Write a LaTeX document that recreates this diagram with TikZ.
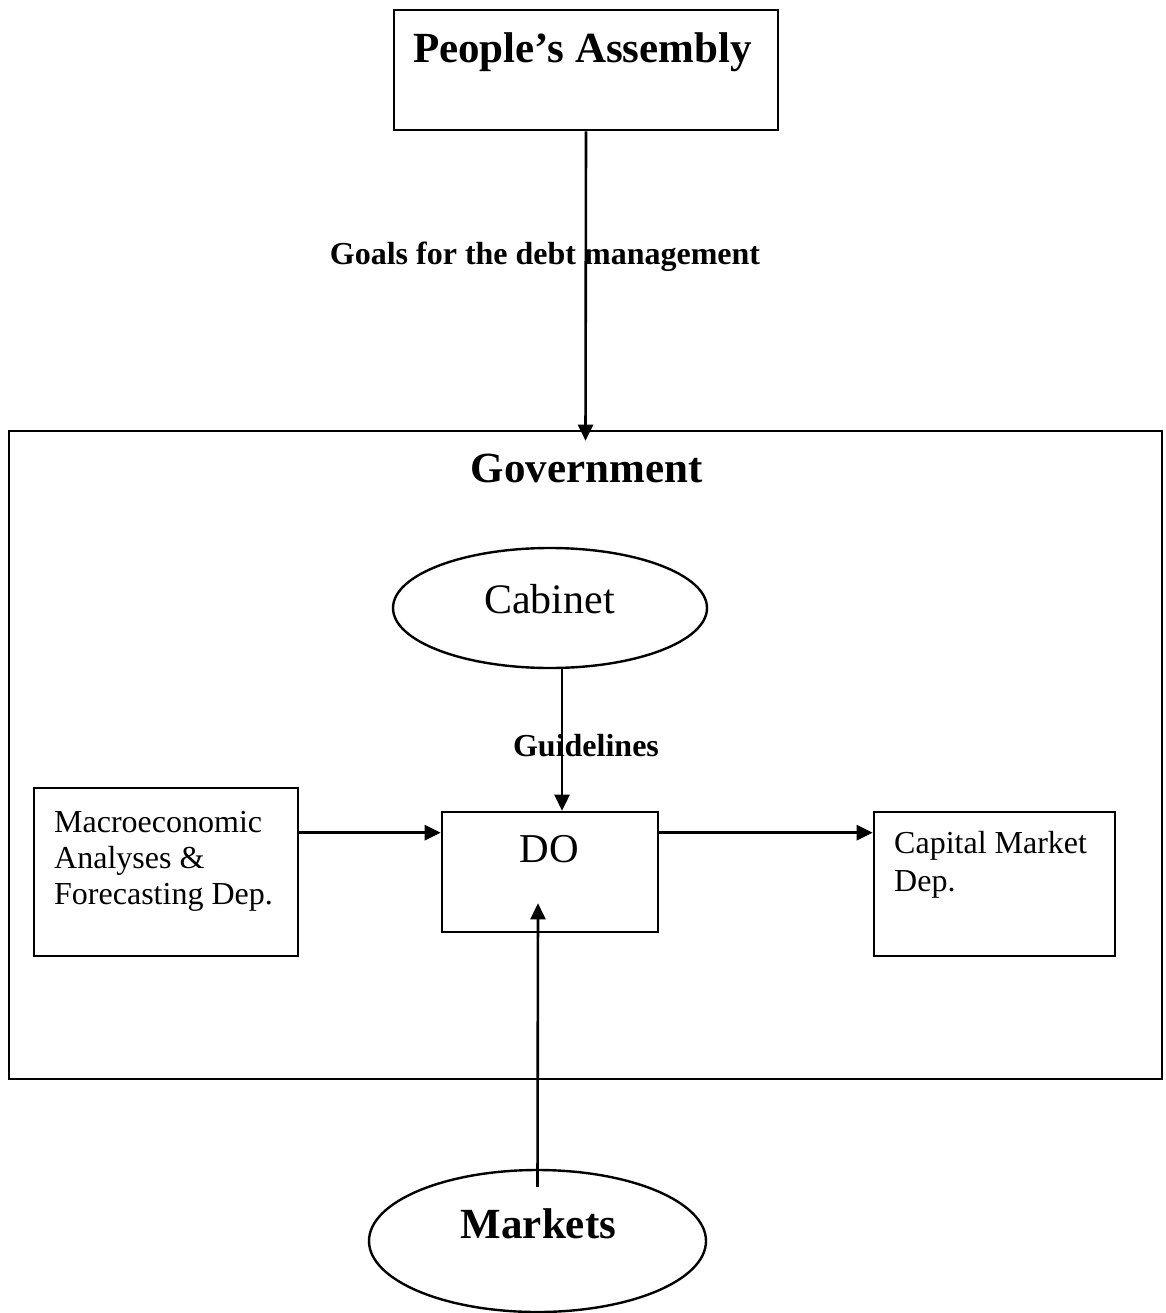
\documentclass[tikz,border=0pt]{standalone}
\usepackage{fontspec}
\setmainfont{Liberation Serif}
\usetikzlibrary{arrows.meta,shapes.geometric}
\begin{document}
\begin{tikzpicture}[x=1pt,y=-1pt,
  boxshape/.style={draw,line width=2.6pt,rectangle,inner sep=0pt},
  ellshape/.style={draw,line width=2.4pt,ellipse,inner sep=0pt},
  arr/.style={line width=2.6pt,-{Triangle[length=16pt,width=15pt]}},
  bigbold/.style={font=\fontsize{43}{48}\selectfont\bfseries,inner sep=0pt,anchor=base},
  bigreg/.style={font=\fontsize{42}{48}\selectfont,inner sep=0pt,anchor=base},
  midbold/.style={font=\fontsize{32}{36}\selectfont\bfseries,inner sep=0pt,anchor=base},
  smalltxt/.style={inner sep=0pt,anchor=base west}
]
\useasboundingbox (0,0) rectangle (1165,1313);
% boxes
\node[boxshape,minimum width=384pt,minimum height=120pt] (pa) at (586,70) {};
\node[boxshape,minimum width=1153pt,minimum height=648pt] (gov) at (585.5,755) {};
\node[ellshape,minimum width=314pt,minimum height=120pt] (cab) at (550,608) {};
\node[boxshape,minimum width=216pt,minimum height=120pt] (do) at (550,872) {};
\node[boxshape,minimum width=264pt,minimum height=168pt] (macro) at (166,872) {};
\node[boxshape,minimum width=241pt,minimum height=144pt] (cap) at (994.5,884) {};
\node[ellshape,minimum width=337pt,minimum height=142pt] (mk) at (537.5,1241) {};
% texts
\node[bigbold] (patxt) at (582.5,63) {People’s Assembly};
\node[midbold] (goals) at (545,265) {Goals for the debt management};
\node[bigbold] (govtxt) at (586.5,482) {Government};
\node[bigreg] (cabtxt) at (549.5,613) {Cabinet};
\node[midbold] (guide) at (586,756) {Guidelines};
\node[bigreg,font=\fontsize{41}{48}\selectfont] (dotxt) at (549.5,862) {DO};
\node[smalltxt] (macrotxt) at (54,832) {\fontsize{32}{36}\selectfont\begin{tabular}[t]{@{}l@{}}Macroeconomic\\Analyses \&\\Forecasting Dep.\end{tabular}};
\node[smalltxt] (captxt) at (894,853) {\fontsize{32}{38}\selectfont\begin{tabular}[t]{@{}l@{}}Capital Market\\Dep.\end{tabular}};
\node[bigbold] (mktxt) at (538.5,1238) {Markets};
% connectors
\draw[arr] (pa.south) -- ([yshift=-11pt]gov.north);
\draw[arr] ([xshift=12pt]cab.south) -- ([xshift=12pt]do.north);
\draw[arr] ([yshift=-22pt]do.north west -| macro.east) -- ([yshift=-22pt]do.north west);
\draw[arr] ([yshift=-22pt]do.north east) -- ([yshift=-22pt]do.north east -| cap.west);
\draw[arr] ([yshift=-18pt]mk.north) -- ([xshift=-12pt,yshift=30pt]do.south);
\end{tikzpicture}
\end{document}
